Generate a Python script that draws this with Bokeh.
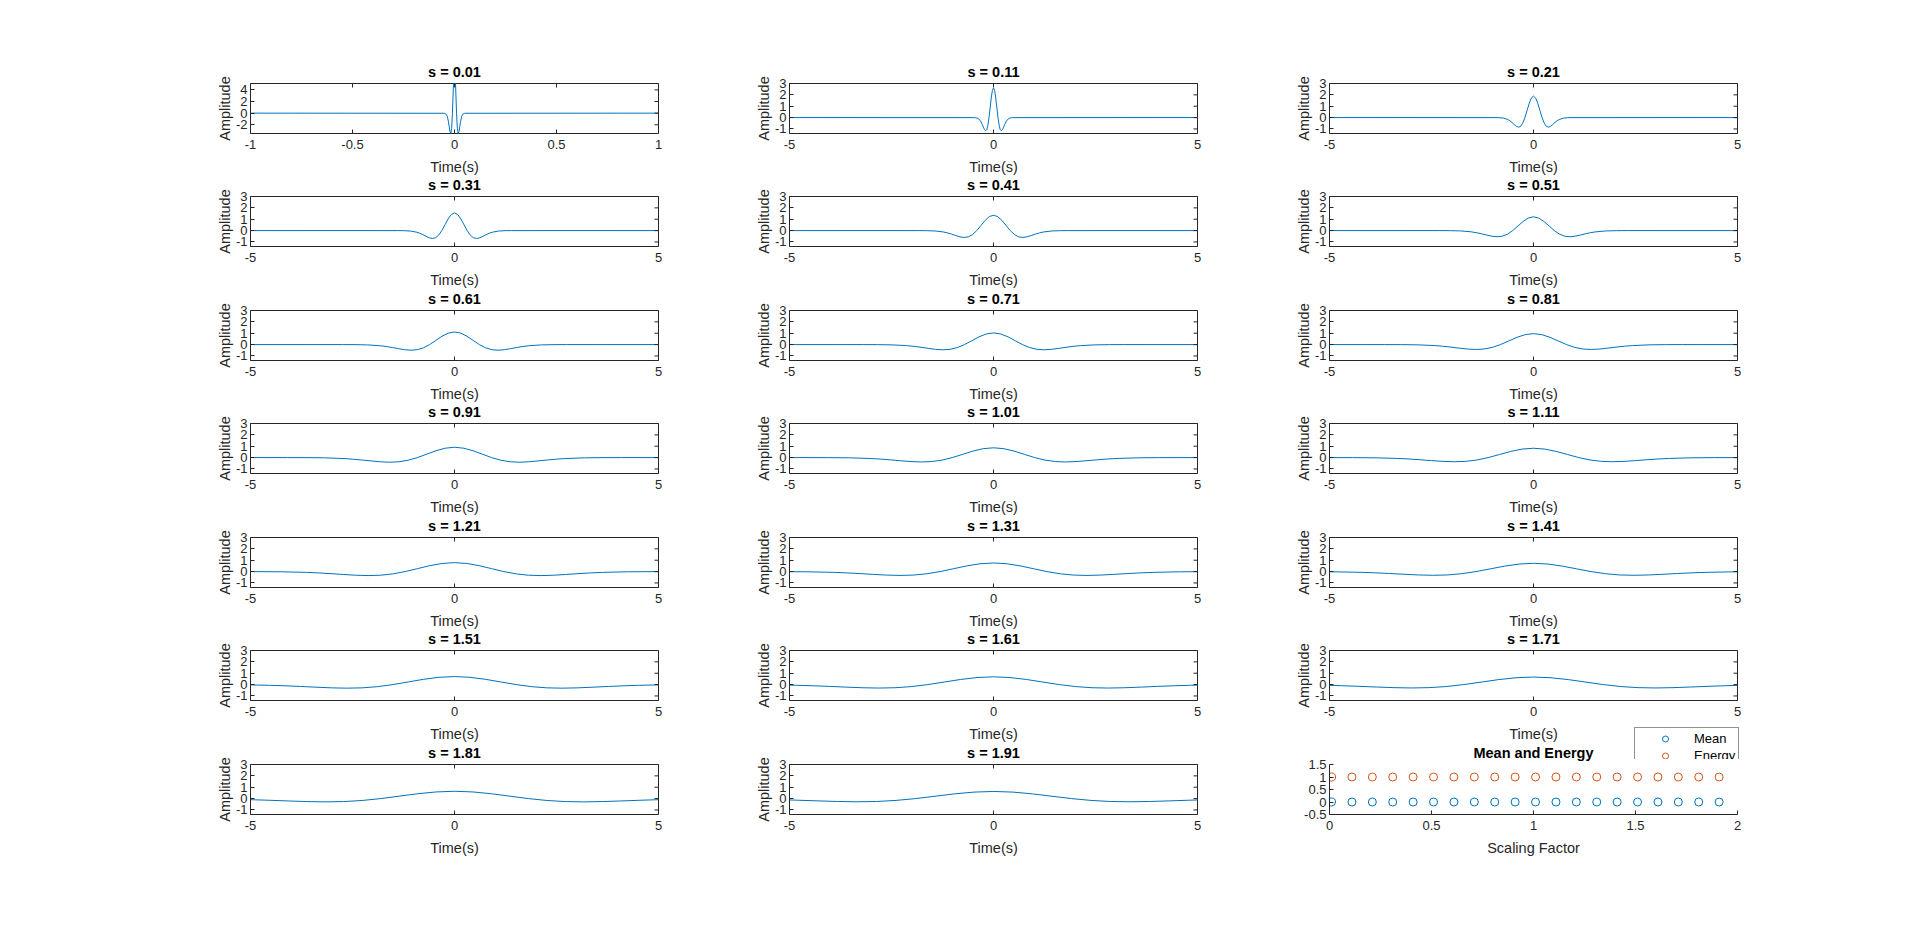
import math
from bokeh.plotting import figure
from bokeh.layouts import column, row
from bokeh.models import FixedTicker, Range1d, Legend, LegendItem
from bokeh.embed import file_html
from bokeh.resources import INLINE

FONT = "Liberation Sans"
AX = "#262626"
BLUE = "#0072BD"
ORANGE = "#D95319"

# ---------------- data (curves are symmetric, t >= 0 half given) ----------------
scales = [0.01, 0.11, 0.21, 0.31, 0.41, 0.51, 0.61, 0.71, 0.81, 0.91,
          1.01, 1.11, 1.21, 1.31, 1.41, 1.51, 1.61, 1.71, 1.81, 1.91]

t_s001 = [0.005, 0.01, 0.014, 0.018, 0.022, 0.026, 0.03, 0.035, 0.04, 0.05, 1.0]
a_s001 = [5.1, 0.0, -2.6, -3.5, -3.2, -2.3, -1.4, -0.6, -0.2, -0.02, 0.0]

t_s011 = [0, 0.028, 0.055, 0.083, 0.11, 0.138, 0.165, 0.193, 0.22, 0.248, 0.275, 0.303, 0.33, 0.385, 0.44, 0.495, 5]
a_s011 = [2.614, 2.376, 1.731, 0.862, 0, -0.672, -1.061, -1.167, -1.061, -0.844, -0.603, -0.392, -0.232, -0.063, -0.012, -0.003, 0]

t_s021 = [0, 0.053, 0.105, 0.158, 0.21, 0.263, 0.315, 0.368, 0.42, 0.473, 0.525, 0.578, 0.63, 0.735, 0.84, 0.945, 5]
a_s021 = [1.892, 1.719, 1.252, 0.624, 0, -0.487, -0.768, -0.844, -0.768, -0.611, -0.436, -0.284, -0.168, -0.046, -0.009, -0.002, 0]

t_s031 = [0, 0.078, 0.155, 0.233, 0.31, 0.388, 0.465, 0.543, 0.62, 0.698, 0.775, 0.853, 0.93, 1.085, 1.24, 1.395, 5]
a_s031 = [1.557, 1.415, 1.031, 0.514, 0, -0.401, -0.632, -0.695, -0.632, -0.503, -0.359, -0.233, -0.138, -0.038, -0.007, -0.002, 0]

t_s041 = [0, 0.103, 0.205, 0.308, 0.41, 0.513, 0.615, 0.718, 0.82, 0.923, 1.025, 1.128, 1.23, 1.435, 1.64, 1.845, 5]
a_s041 = [1.354, 1.231, 0.897, 0.447, 0, -0.348, -0.550, -0.605, -0.550, -0.437, -0.312, -0.203, -0.120, -0.033, -0.006, -0.002, 0]

t_s051 = [0, 0.128, 0.255, 0.383, 0.51, 0.638, 0.765, 0.893, 1.02, 1.148, 1.275, 1.403, 1.53, 1.785, 2.04, 2.295, 5]
a_s051 = [1.214, 1.103, 0.804, 0.400, 0, -0.312, -0.493, -0.542, -0.493, -0.392, -0.280, -0.182, -0.108, -0.029, -0.006, -0.001, 0]

t_s061 = [0, 0.153, 0.305, 0.458, 0.61, 0.763, 0.915, 1.068, 1.22, 1.373, 1.525, 1.678, 1.83, 2.135, 2.44, 2.745, 5]
a_s061 = [1.110, 1.009, 0.735, 0.366, 0, -0.285, -0.451, -0.495, -0.451, -0.358, -0.256, -0.166, -0.099, -0.027, -0.005, -0.001, 0]

t_s071 = [0, 0.178, 0.355, 0.533, 0.71, 0.888, 1.065, 1.243, 1.42, 1.598, 1.775, 1.953, 2.13, 2.485, 2.84, 3.195, 5]
a_s071 = [1.029, 0.935, 0.681, 0.339, 0, -0.265, -0.418, -0.459, -0.418, -0.332, -0.237, -0.154, -0.091, -0.025, -0.005, -0.001, 0]

t_s081 = [0, 0.203, 0.405, 0.608, 0.81, 1.013, 1.215, 1.418, 1.62, 1.823, 2.025, 2.228, 2.43, 2.835, 3.24, 3.645, 5]
a_s081 = [0.963, 0.875, 0.638, 0.318, 0, -0.248, -0.391, -0.430, -0.391, -0.311, -0.222, -0.144, -0.086, -0.023, -0.004, -0.001, 0]

t_s091 = [0, 0.228, 0.455, 0.683, 0.91, 1.138, 1.365, 1.593, 1.82, 2.048, 2.275, 2.503, 2.73, 3.185, 3.64, 4.095, 5]
a_s091 = [0.909, 0.826, 0.602, 0.300, 0, -0.234, -0.369, -0.406, -0.369, -0.293, -0.210, -0.136, -0.081, -0.022, -0.004, -0.001, 0]

t_s101 = [0, 0.253, 0.505, 0.758, 1.01, 1.263, 1.515, 1.768, 2.02, 2.273, 2.525, 2.778, 3.03, 3.535, 4.04, 4.545, 5]
a_s101 = [0.863, 0.784, 0.571, 0.285, 0, -0.222, -0.350, -0.385, -0.350, -0.279, -0.199, -0.129, -0.077, -0.021, -0.004, -0.001, 0]

t_s111 = [0, 0.278, 0.555, 0.833, 1.11, 1.388, 1.665, 1.943, 2.22, 2.498, 2.775, 3.053, 3.33, 3.885, 4.44, 5]
a_s111 = [0.823, 0.748, 0.545, 0.271, 0, -0.212, -0.334, -0.367, -0.334, -0.266, -0.190, -0.123, -0.073, -0.020, -0.004, -0.001]

t_s121 = [0, 0.303, 0.605, 0.908, 1.21, 1.513, 1.815, 2.118, 2.42, 2.723, 3.025, 3.328, 3.63, 4.235, 4.84, 5]
a_s121 = [0.788, 0.716, 0.522, 0.260, 0, -0.203, -0.320, -0.352, -0.320, -0.255, -0.182, -0.118, -0.070, -0.019, -0.004, -0.002]

t_s131 = [0, 0.328, 0.655, 0.983, 1.31, 1.638, 1.965, 2.293, 2.62, 2.948, 3.275, 3.603, 3.93, 4.585, 5]
a_s131 = [0.758, 0.689, 0.502, 0.250, 0, -0.195, -0.308, -0.338, -0.308, -0.245, -0.175, -0.114, -0.067, -0.018, -0.007]

t_s141 = [0, 0.353, 0.705, 1.058, 1.41, 1.763, 2.115, 2.468, 2.82, 3.173, 3.525, 3.878, 4.23, 4.935, 5]
a_s141 = [0.730, 0.664, 0.483, 0.241, 0, -0.188, -0.296, -0.326, -0.296, -0.236, -0.168, -0.109, -0.065, -0.018, -0.016]

t_s151 = [0, 0.378, 0.755, 1.133, 1.51, 1.888, 2.265, 2.643, 3.02, 3.398, 3.775, 4.153, 4.53, 5]
a_s151 = [0.706, 0.641, 0.467, 0.233, 0, -0.182, -0.287, -0.315, -0.287, -0.228, -0.163, -0.106, -0.063, -0.029]

t_s161 = [0, 0.403, 0.805, 1.208, 1.61, 2.013, 2.415, 2.818, 3.22, 3.623, 4.025, 4.428, 4.83, 5]
a_s161 = [0.683, 0.621, 0.452, 0.225, 0, -0.176, -0.277, -0.305, -0.277, -0.221, -0.158, -0.102, -0.061, -0.048]

t_s171 = [0, 0.428, 0.855, 1.283, 1.71, 2.138, 2.565, 2.993, 3.42, 3.848, 4.275, 4.703, 5]
a_s171 = [0.663, 0.603, 0.439, 0.219, 0, -0.171, -0.269, -0.296, -0.269, -0.214, -0.153, -0.099, -0.070]

t_s181 = [0, 0.453, 0.905, 1.358, 1.81, 2.263, 2.715, 3.168, 3.62, 4.073, 4.525, 5]
a_s181 = [0.644, 0.585, 0.426, 0.212, 0, -0.166, -0.262, -0.288, -0.262, -0.208, -0.149, -0.094]

t_s191 = [0, 0.478, 0.955, 1.433, 1.91, 2.388, 2.865, 3.343, 3.82, 4.298, 4.775, 5]
a_s191 = [0.628, 0.571, 0.416, 0.207, 0, -0.161, -0.255, -0.280, -0.255, -0.203, -0.145, -0.119]

scale_factor = [0.01, 0.11, 0.21, 0.31, 0.41, 0.51, 0.61, 0.71, 0.81, 0.91,
                1.01, 1.11, 1.21, 1.31, 1.41, 1.51, 1.61, 1.71, 1.81, 1.91]
mean_vals = [0.0, 0.0, 0.0, 0.0, 0.0, 0.0, 0.0, 0.0, 0.0, 0.0,
             0.0, 0.0, 0.0, 0.0, 0.0, 0.0, 0.0, 0.0, 0.0, 0.0]
energy_vals = [1.0, 1.0, 1.0, 1.0, 1.0, 1.0, 1.0, 1.0, 1.0, 1.0,
               1.0, 1.0, 1.0, 1.0, 1.0, 1.0, 1.0, 1.0, 1.0, 1.0]
legend_labels = ["Mean", "Energy"]

first_xticks = [-1, -0.5, 0, 0.5, 1]
first_yticks = [-2, 0, 2, 4]
wave_xticks = [-5, 0, 5]
wave_yticks = [-1, 0, 1, 2, 3]
me_xticks = [0, 0.5, 1, 1.5, 2]
me_yticks = [-0.5, 0, 0.5, 1, 1.5]

curves = [(t_s001, a_s001), (t_s011, a_s011), (t_s021, a_s021), (t_s031, a_s031),
          (t_s041, a_s041), (t_s051, a_s051), (t_s061, a_s061), (t_s071, a_s071),
          (t_s081, a_s081), (t_s091, a_s091), (t_s101, a_s101), (t_s111, a_s111),
          (t_s121, a_s121), (t_s131, a_s131), (t_s141, a_s141), (t_s151, a_s151),
          (t_s161, a_s161), (t_s171, a_s171), (t_s181, a_s181), (t_s191, a_s191)]

# ---------------- layout ----------------
COL_L = [250, 121, 122]
COL_R = [10, 10, 40]
FRAME_W = 408
FRAME_H = 50
TOP = 40
BOT = 52
ROW_MARGIN = [43, -29, -28, -29, -28, -29, -28]


def mirror(t, a):
    tt = [-x for x in reversed(t) if x > 0] + list(t)
    aa = [y for x, y in zip(reversed(t), reversed(a)) if x > 0] + list(a)
    return tt, aa


def style_axis(ax, ticks):
    ax.ticker = FixedTicker(ticks=ticks)
    ax.major_label_overrides = {t: str(t) for t in ticks if t < 0}
    ax.major_tick_in = 4
    ax.major_tick_out = 0
    ax.minor_tick_in = 0
    ax.minor_tick_out = 0
    ax.major_tick_line_color = AX
    ax.major_tick_line_width = 1
    ax.axis_line_color = None
    ax.major_label_text_font = FONT
    ax.major_label_text_font_size = "13px"
    ax.major_label_text_color = AX
    ax.axis_label_text_font = FONT
    ax.axis_label_text_font_size = "14.5px"
    ax.axis_label_text_font_style = "normal"
    ax.axis_label_text_color = AX


def base_fig(ci, xr, yr, title):
    r = COL_R[ci]
    p = figure(width=COL_L[ci] + FRAME_W + r, height=TOP + FRAME_H + BOT,
               x_range=Range1d(*xr), y_range=Range1d(*yr),
               output_backend="svg", toolbar_location=None,
               min_border_left=COL_L[ci], min_border_right=r,
               min_border_top=TOP, min_border_bottom=BOT)
    p.xgrid.visible = False
    p.ygrid.visible = False
    p.background_fill_color = "white"
    p.border_fill_color = None
    p.title.text = title
    p.title.align = "center"
    p.title.text_font = FONT
    p.title.text_font_size = "14.5px"
    p.title.text_font_style = "bold"
    p.title.text_color = "black"
    p.title.standoff = 7
    p.title.offset = 0
    return p


figs = []
for i, s in enumerate(scales):
    ri, ci = divmod(i, 3)
    if i == 0:
        xr, yr, xt, yt = (-1, 1), (-3.5, 5.1), first_xticks, first_yticks
    else:
        xr, yr, xt, yt = (-5, 5), (-1.4, 3), wave_xticks, wave_yticks
    p = base_fig(ci, xr, yr, f"s = {s:.2f}")
    p.outline_line_color = AX
    p.outline_line_width = 1
    style_axis(p.xaxis[0], xt)
    style_axis(p.yaxis[0], yt)
    p.xaxis[0].major_label_standoff = 6
    p.xaxis[0].axis_label_standoff = 7
    p.yaxis[0].major_label_standoff = 3
    p.yaxis[0].axis_label_standoff = 0
    p.xaxis[0].axis_label = "Time(s)"
    p.yaxis[0].axis_label = "Amplitude"
    tt, aa = mirror(*curves[i])
    p.line(tt, aa, line_color=BLUE, line_width=1)
    # inward ticks on the top and right edges of the box (clipped half of a dash marker)
    p.scatter(xt, [yr[1]] * len(xt), marker="dash", angle=math.pi / 2, size=8,
              line_color=AX, line_width=1)
    p.scatter([xr[1]] * len(yt), yt, marker="dash", size=8, line_color=AX, line_width=1)
    figs.append(p)

# mean and energy panel
p = base_fig(2, (0, 2), (-0.5, 1.5), "Mean and Energy")
p.outline_line_color = None
p.background_fill_color = None
style_axis(p.xaxis[0], me_xticks)
style_axis(p.yaxis[0], me_yticks)
p.xaxis[0].axis_line_color = AX
p.yaxis[0].axis_line_color = AX
p.xaxis[0].major_label_standoff = 6
p.xaxis[0].axis_label_standoff = 7
p.yaxis[0].major_label_standoff = 3
p.xaxis[0].axis_label = "Scaling Factor"
p.scatter(scale_factor, mean_vals, marker="circle", size=8, fill_color=None,
          line_color=BLUE, line_width=1)
p.scatter(scale_factor, energy_vals, marker="circle", size=8, fill_color=None,
          line_color=ORANGE, line_width=1)
figs.append(p)

# legend box: its own small canvas laid over the top-right corner of the last panel.
# It holds the same two series (outside its own view range, so only the legend shows).
lg = figure(width=120, height=60, x_range=Range1d(100, 101), y_range=Range1d(100, 101),
            output_backend="svg", toolbar_location=None,
            x_axis_location=None, y_axis_location=None,
            min_border_left=0, min_border_right=0, min_border_top=0, min_border_bottom=0,
            margin=(-5, 0, 0, -143))
lg.title = None
lg.xgrid.visible = False
lg.ygrid.visible = False
lg.outline_line_color = None
lg.background_fill_color = None
lg.border_fill_color = None
lr_mean = lg.scatter(scale_factor, mean_vals, marker="circle", size=8, fill_color=None,
                     line_color=BLUE, line_width=1)
lr_energy = lg.scatter(scale_factor, energy_vals, marker="circle", size=8, fill_color=None,
                       line_color=ORANGE, line_width=1)
legend = Legend(items=[LegendItem(label=legend_labels[0], renderers=[lr_mean]),
                       LegendItem(label=legend_labels[1], renderers=[lr_energy])],
                location="top_left")
legend.border_line_color = AX
legend.border_line_width = 1
legend.background_fill_color = "white"
legend.background_fill_alpha = 1
legend.label_text_font = FONT
legend.label_text_font_size = "13px"
legend.label_text_color = "black"
legend.padding = 3
legend.spacing = 2
legend.margin = 0
legend.glyph_width = 54
legend.glyph_height = 15
legend.label_height = 15
legend.label_standoff = 2
lg.add_layout(legend)

row_children = [figs[r * 3:(r + 1) * 3] for r in range(7)]
row_children[6].append(lg)
rows = [row(*row_children[r], margin=(ROW_MARGIN[r], 0, 0, 0)) for r in range(7)]
layout = column(*rows)

open("out.html", "w").write(file_html(layout, INLINE))
